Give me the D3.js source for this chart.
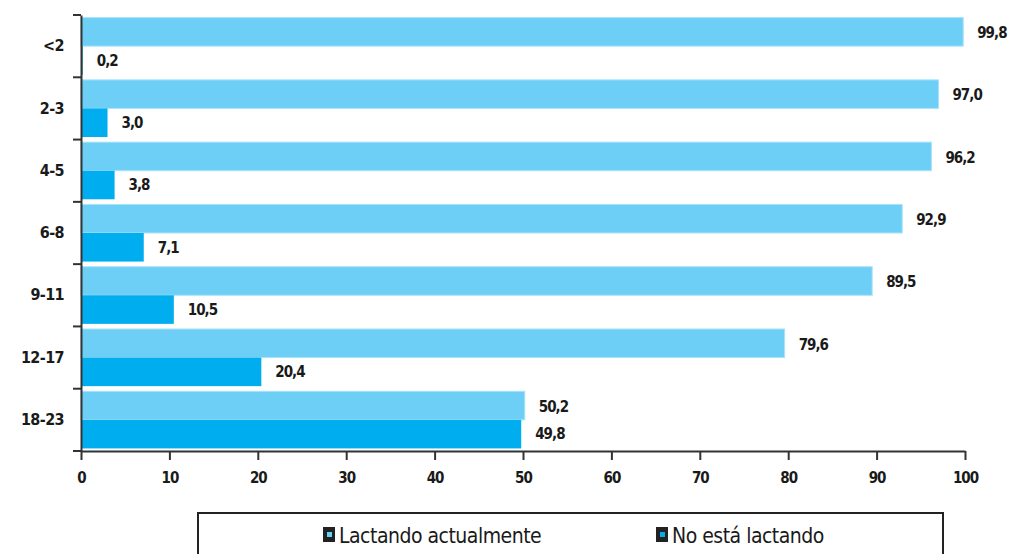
<!DOCTYPE html>
<html>
<head>
<meta charset="utf-8">
<script src="https://cdn.jsdelivr.net/npm/d3@7"></script>
<style>
  body { margin: 0; background: #fff; }
  svg text { fill: #1a1a1a; }
  .lbl { font-family: 'DejaVu Sans Condensed', 'Liberation Sans Narrow', sans-serif; font-weight: bold; font-size: 15px; letter-spacing: -1px; }
  .cat { font-size: 16px; letter-spacing: -0.6px; }
  .leg { font-family: 'Liberation Sans Narrow', 'DejaVu Sans Condensed', sans-serif; font-size: 21px; letter-spacing: -0.5px; }
</style>
</head>
<body>
<div id="chart"></div>
<script>
let ageGroups = ['<2', '2-3', '4-5', '6-8', '9-11', '12-17', '18-23'];
let lactando = [99.8, 97.0, 96.2, 92.9, 89.5, 79.6, 50.2];
let noLactando = [0.2, 3.0, 3.8, 7.1, 10.5, 20.4, 49.8];
let xTicks = [0, 10, 20, 30, 40, 50, 60, 70, 80, 90, 100];
let seriesNames = ['Lactando actualmente', 'No está lactando'];
let colors = ['#6dcff6', '#00aeef'];

let W = 1014, H = 554;
let margin = { top: 15, left: 81, right: 49, bottom: 103 };

let svg = d3.select('#chart').append('svg')
  .attr('width', W).attr('height', H);

let x = d3.scaleLinear().domain([0, 100]).range([margin.left, W - margin.right]);
let y = d3.scaleBand().domain(ageGroups).range([margin.top, H - margin.bottom]);
let inner = d3.scaleBand().domain([0, 1]).range([0, y.bandwidth()]).paddingOuter(0.09).paddingInner(0);

let fmt = (v) => d3.format('.1f')(v).replace('.', ',');

// bars, one group per age range
let rows = ageGroups.map((g, i) => ({ group: g, vals: [lactando[i], noLactando[i]] }));

let grp = svg.append('g').selectAll('g').data(rows).join('g')
  .attr('transform', (d) => `translate(0,${y(d.group)})`);

grp.selectAll('rect').data((d) => d.vals).join('rect')
  .attr('x', x(0))
  .attr('y', (d, i) => inner(i))
  .attr('width', (d) => x(d) - x(0))
  .attr('height', inner.bandwidth())
  .attr('fill', (d, i) => colors[i])
  .attr('stroke', (d, i) => i === 0 ? '#a9e3fa' : 'none')
  .attr('stroke-width', 1);

grp.selectAll('text').data((d) => d.vals).join('text')
  .attr('class', 'lbl')
  .attr('x', (d) => x(d) + 14)
  .attr('y', (d, i) => inner(i) + inner.bandwidth() / 2 + (i === 0 ? 1 : 0))
  .attr('dy', '0.35em')
  .text((d) => fmt(d));

// axes
let xAxis = svg.append('g')
  .attr('transform', `translate(0,${H - margin.bottom})`)
  .call(d3.axisBottom(x).tickValues(xTicks).tickSize(9).tickSizeOuter(0));
xAxis.selectAll('text').attr('class', 'lbl').attr('dy', '1.3em').attr('fill', '#1a1a1a');

let yAxis = svg.append('g')
  .attr('transform', `translate(${margin.left},0)`)
  .call(d3.axisLeft(y).tickSize(0));
yAxis.selectAll('text').attr('class', 'lbl cat').attr('x', -17).attr('fill', '#1a1a1a');

// y ticks sit on the band boundaries
let bounds = ageGroups.map((g) => y(g)).concat([H - margin.bottom]);
yAxis.selectAll('.bound').data(bounds).join('line')
  .attr('class', 'bound')
  .attr('x1', -8).attr('x2', 0)
  .attr('y1', (d) => d).attr('y2', (d) => d)
  .attr('stroke', '#333').attr('stroke-width', 2);

svg.selectAll('.domain').attr('stroke', '#333').attr('stroke-width', 2);
xAxis.selectAll('.tick line').attr('stroke', '#333').attr('stroke-width', 2);

// legend
let leg = svg.append('g');
leg.append('rect')
  .attr('x', 198).attr('y', 513).attr('width', 745).attr('height', 60)
  .attr('fill', 'none').attr('stroke', '#222').attr('stroke-width', 2);

let legX = [323, 656];
let items = leg.selectAll('g.item').data(seriesNames).join('g')
  .attr('class', 'item')
  .attr('transform', (d, i) => `translate(${legX[i]},527)`);
items.append('rect').attr('width', 12).attr('height', 15).attr('fill', '#222');
items.append('rect').attr('x', 4).attr('y', 5).attr('width', 5).attr('height', 5)
  .attr('fill', (d, i) => colors[i]);
items.append('text').attr('class', 'leg')
  .attr('x', 16).attr('y', 8).attr('dy', '0.36em')
  .text((d) => d);
</script>
</body>
</html>
